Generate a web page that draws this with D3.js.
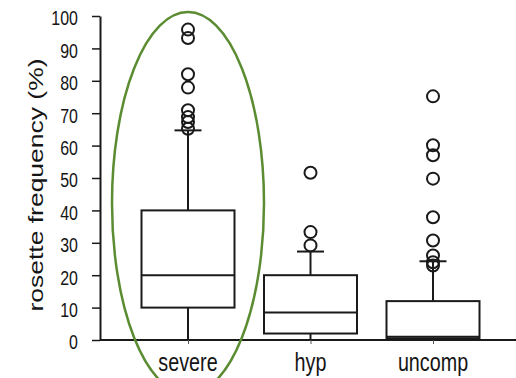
<!DOCTYPE html>
<html>
<head>
<meta charset="utf-8">
<script src="https://cdn.jsdelivr.net/npm/d3@7"></script>
<style>
  body { margin: 0; background: #fff; }
  text { font-family: "Liberation Sans", Arial, sans-serif; fill: #151515; }
</style>
</head>
<body>
<div id="chart"></div>
<script>
// box plot data
var categories = ["severe", "hyp", "uncomp"];
var q1Values = [10, 2, 0.5];
var medianValues = [20, 8.5, 1];
var q3Values = [40, 20, 12];
var whiskerLow = [0, 0, 0];
var whiskerHigh = [64.7, 27.3, 24.3];
var outliers = [
  [95.8, 93.2, 82, 77.9, 70.9, 68.8, 67.3, 65.2],
  [51.6, 33.3, 29.2],
  [75.2, 60.1, 57, 49.8, 37.9, 30.7, 26.1, 24.0, 23.0]
];
var yTicks = [0, 10, 20, 30, 40, 50, 60, 70, 80, 90, 100];

var svgWidth = 516;
var svgHeight = 378;
var squeeze = 0.76; // text in the source looks horizontally condensed

var svg = d3.select("#chart")
  .append("svg")
  .attr("width", svgWidth)
  .attr("height", svgHeight);

var boxes = categories.map(function(c, i) {
  return {
    cat: c,
    q1: q1Values[i],
    med: medianValues[i],
    q3: q3Values[i],
    lo: whiskerLow[i],
    hi: whiskerHigh[i],
    out: outliers[i]
  };
});

// scales
var x = d3.scalePoint()
  .domain(categories)
  .range([188, 433]);

var y = d3.scaleLinear()
  .domain([0, 100])
  .range([340, 16]);

var boxWidth = 93;
var capWidth = 27;

// y axis
var yAxis = svg.append("g")
  .attr("transform", "translate(100,0)")
  .call(d3.axisLeft(y).tickValues(yTicks).tickSize(8).tickSizeOuter(0));

yAxis.select(".domain").attr("stroke", "#1a1a1a").attr("stroke-width", 2);
yAxis.selectAll(".tick line").attr("stroke", "#1a1a1a").attr("stroke-width", 1.5);
yAxis.selectAll(".tick text")
  .attr("x", -29)
  .attr("dy", "0.42em")
  .attr("transform", "scale(" + squeeze + ",1)")
  .style("font-size", "21px")
  .style("font-family", "'Liberation Sans', Arial, sans-serif")
  .attr("fill", "#151515");

// x axis line
svg.append("line")
  .attr("x1", 100)
  .attr("x2", svgWidth)
  .attr("y1", y(0))
  .attr("y2", y(0))
  .attr("stroke", "#1a1a1a")
  .attr("stroke-width", 2);

var xAxis = svg.append("g")
  .attr("transform", "translate(0," + y(0) + ")")
  .call(d3.axisBottom(x).tickSize(4).tickFormat(""));
xAxis.select(".domain").remove();
xAxis.selectAll(".tick line").attr("stroke", "#555").attr("stroke-width", 1);

// category labels
svg.selectAll(".catLabel")
  .data(categories)
  .enter()
  .append("text")
  .attr("class", "catLabel")
  .attr("transform", d => "translate(" + x(d) + ",371) scale(" + squeeze + ",1)")
  .attr("text-anchor", "middle")
  .style("font-size", "26px")
  .text(d => d);

// y axis title
svg.append("text")
  .attr("transform", "translate(43,185) scale(" + squeeze + ",1) rotate(-90)")
  .attr("text-anchor", "middle")
  .style("font-size", "26.5px")
  .text("rosette frequency (%)");

// boxes
var g = svg.selectAll(".box")
  .data(boxes)
  .enter()
  .append("g")
  .attr("class", "box");

// whiskers
g.append("line")
  .attr("x1", d => x(d.cat))
  .attr("x2", d => x(d.cat))
  .attr("y1", d => y(d.q3))
  .attr("y2", d => y(d.hi))
  .attr("stroke", "#1a1a1a")
  .attr("stroke-width", 2);

g.append("line")
  .attr("x1", d => x(d.cat))
  .attr("x2", d => x(d.cat))
  .attr("y1", d => y(d.q1))
  .attr("y2", d => y(d.lo))
  .attr("stroke", "#1a1a1a")
  .attr("stroke-width", 2);

g.append("line")
  .attr("x1", d => x(d.cat) - capWidth / 2)
  .attr("x2", d => x(d.cat) + capWidth / 2)
  .attr("y1", d => y(d.hi))
  .attr("y2", d => y(d.hi))
  .attr("stroke", "#1a1a1a")
  .attr("stroke-width", 2);

g.append("rect")
  .attr("x", d => x(d.cat) - boxWidth / 2)
  .attr("width", boxWidth)
  .attr("y", d => y(d.q3))
  .attr("height", d => y(d.q1) - y(d.q3))
  .attr("fill", "#fff")
  .attr("stroke", "#1a1a1a")
  .attr("stroke-width", 2);

g.append("line")
  .attr("x1", d => x(d.cat) - boxWidth / 2)
  .attr("x2", d => x(d.cat) + boxWidth / 2)
  .attr("y1", d => y(d.med))
  .attr("y2", d => y(d.med))
  .attr("stroke", "#1a1a1a")
  .attr("stroke-width", 2);

// outliers
g.each(function(d) {
  d3.select(this).selectAll("circle")
    .data(d.out)
    .enter()
    .append("circle")
    .attr("cx", x(d.cat))
    .attr("cy", v => y(v))
    .attr("r", 6)
    .attr("fill", "none")
    .attr("stroke", "#1a1a1a")
    .attr("stroke-width", 2);
});

// green highlight round "severe"
svg.append("ellipse")
  .attr("cx", x("severe"))
  .attr("cy", 203)
  .attr("rx", 76)
  .attr("ry", 191)
  .attr("fill", "none")
  .attr("stroke", "#5b8c32")
  .attr("stroke-width", 2.5);
</script>
</body>
</html>
